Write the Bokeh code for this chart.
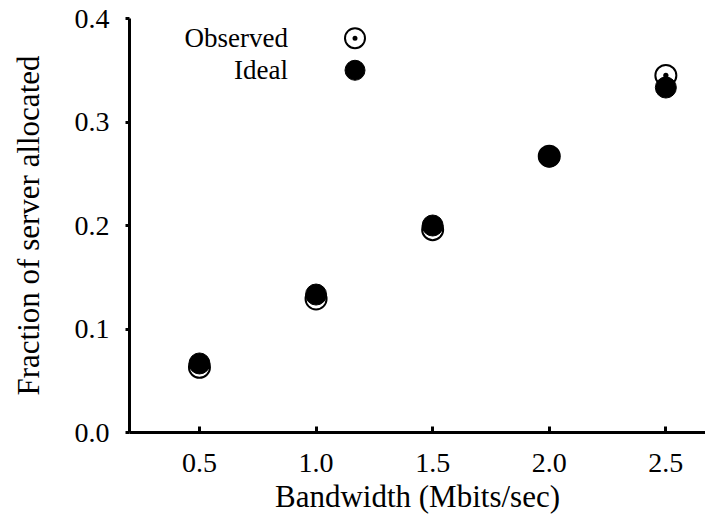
from bokeh.plotting import figure
from bokeh.models import Range1d, FixedTicker, ColumnDataSource
from bokeh.core.properties import value
from bokeh.embed import file_html
from bokeh.resources import INLINE

# Data
bandwidth = [0.5, 1.0, 1.5, 2.0, 2.5]
observed = [0.063, 0.129, 0.196, 0.267, 0.345]
ideal = [0.0667, 0.1333, 0.2, 0.2667, 0.3333]
x_ticks = [0.5, 1.0, 1.5, 2.0, 2.5]
y_ticks = [0.0, 0.1, 0.2, 0.3, 0.4]
legend_labels = ["Observed", "Ideal"]

FONT = "Liberation Serif"

p = figure(
    frame_width=576, frame_height=414,
    x_range=Range1d(0.2, 2.67), y_range=Range1d(0.0, 0.4),
    output_backend="svg", toolbar_location=None,
    min_border_left=129, min_border_right=0, min_border_top=18, min_border_bottom=89,
)
p.outline_line_color = None
p.grid.visible = False
p.background_fill_color = "white"
p.border_fill_color = "white"

for ax in (p.xaxis[0], p.yaxis[0]):
    ax.axis_line_width = 3
    ax.axis_line_color = "black"
    ax.major_tick_line_width = 3
    ax.major_tick_line_color = "black"
    ax.minor_tick_line_color = None
    ax.major_label_text_font = FONT
    ax.major_label_text_font_size = "28px"
    ax.major_label_text_color = "black"
    ax.axis_label_text_font = FONT
    ax.axis_label_text_font_size = "31px"
    ax.axis_label_text_font_style = "normal"
    ax.axis_label_text_color = "black"

p.xaxis.ticker = FixedTicker(ticks=x_ticks)
p.xaxis.major_label_overrides = {t: f"{t:.1f}" for t in x_ticks}
p.xaxis.major_tick_in = 6
p.xaxis.major_tick_out = 0
p.xaxis.major_label_standoff = 21
p.xaxis.axis_label = "Bandwidth (Mbits/sec)"
p.xaxis.axis_label_standoff = 4

p.yaxis.ticker = FixedTicker(ticks=y_ticks)
p.yaxis.major_label_overrides = {t: f"{t:.1f}" for t in y_ticks}
p.yaxis.major_tick_in = 0
p.yaxis.major_tick_out = 4
p.yaxis.major_label_standoff = 16
p.yaxis.axis_label = "Fraction of server allocated"
p.yaxis.axis_label_standoff = 26

src = ColumnDataSource(dict(x=bandwidth, obs=observed, ideal=ideal))
p.scatter("x", "obs", source=src, marker="circle_dot", size=21,
          fill_color="white", line_color="black", line_width=2)
p.scatter("x", "ideal", source=src, marker="circle", size=21,
          fill_color="black", line_color="black", line_width=1)

# Legend (label left, marker right)
leg_mx = 1.167
leg_tx = 0.88
leg_y = [0.381, 0.350]
p.text(x=[leg_tx, leg_tx], y=leg_y, text=legend_labels,
       text_font=value(FONT), text_font_size="27px", text_align="right",
       text_baseline="middle", text_color="black")
p.scatter(x=[leg_mx], y=[leg_y[0]], marker="circle_dot", size=20,
          fill_color="white", line_color="black", line_width=2)
p.scatter(x=[leg_mx], y=[leg_y[1]], marker="circle", size=20,
          fill_color="black", line_color="black")

open("out.html", "w").write(file_html(p, INLINE))
